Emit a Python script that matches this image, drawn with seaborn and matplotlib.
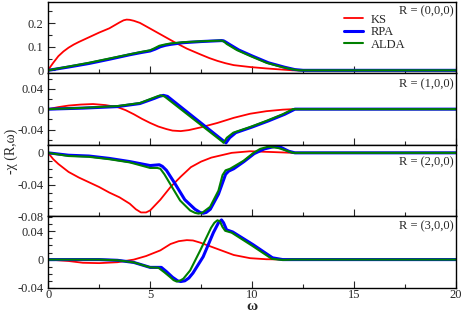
import numpy as np
import pandas as pd
import seaborn as sns
import matplotlib.pyplot as plt
from matplotlib.ticker import MultipleLocator

# R = (0,0,0)
ks0_w = [0, 0.1, 0.25, 0.5, 0.75, 1, 1.25, 1.5, 2, 2.5, 3, 3.5, 3.7, 3.85, 4.0, 4.2, 4.5, 5, 5.6, 6.2, 6.8, 7.45, 7.9, 8.3, 8.7, 9.1, 9.9, 10.7, 11.5, 12, 20]
ks0_y = [0, 0.014, 0.032, 0.06, 0.08, 0.096, 0.109, 0.12, 0.14, 0.16, 0.178, 0.203, 0.212, 0.215, 0.214, 0.21, 0.201, 0.177, 0.148, 0.119, 0.092, 0.068, 0.052, 0.04, 0.03, 0.022, 0.014, 0.008, 0.003, 0, 0]
rpa0_w = [0, 1, 2, 3, 4, 4.6, 5, 5.25, 5.5, 5.75, 6, 6.6, 7.5, 8.5, 8.6, 8.7, 8.85, 9.35, 10, 10.8, 11.6, 12.1, 12.5, 20]
rpa0_y = [0, 0.014, 0.029, 0.047, 0.066, 0.076, 0.082, 0.09, 0.1, 0.106, 0.11, 0.117, 0.122, 0.126, 0.125, 0.12, 0.112, 0.086, 0.061, 0.032, 0.013, 0.003, 0, 0]
alda0_w = [0, 1, 2, 3, 4, 4.5, 5, 5.2, 5.45, 5.7, 6, 6.6, 7.5, 8.45, 8.55, 8.65, 8.75, 9.25, 9.9, 10.7, 11.5, 12, 12.3, 20]
alda0_y = [0, 0.016, 0.032, 0.05, 0.068, 0.077, 0.085, 0.093, 0.104, 0.109, 0.114, 0.119, 0.123, 0.126, 0.125, 0.12, 0.112, 0.086, 0.061, 0.032, 0.013, 0.004, 0, 0]

# R = (1,0,0)
ks1_w = [0, 0.5, 1, 1.6, 2.2, 2.8, 3.4, 3.8, 4.2, 4.6, 5, 5.4, 5.8, 6.1, 6.5, 6.9, 7.45, 8.3, 9.1, 9.9, 10.7, 11.5, 12, 20]
ks1_y = [0, 0.004, 0.007, 0.009, 0.01, 0.008, 0.004, -0.002, -0.01, -0.019, -0.027, -0.034, -0.039, -0.042, -0.043, -0.041, -0.036, -0.027, -0.017, -0.009, -0.004, -0.001, 0, 0]
rpa1_w = [0, 1.7, 3.4, 4.5, 5.2, 5.45, 5.65, 5.85, 8.65, 8.72, 8.9, 9.2, 10.0, 10.8, 11.6, 12.1, 20]
rpa1_y = [0, 0.002, 0.005, 0.011, 0.021, 0.025, 0.027, 0.025, -0.064, -0.066, -0.056, -0.046, -0.035, -0.023, -0.01, 0, 0]
alda1_w = [0, 1.7, 3.4, 4.5, 5.15, 5.35, 5.5, 5.7, 8.55, 8.6, 8.76, 9.08, 9.9, 10.7, 11.5, 12, 20]
alda1_y = [0, 0.0025, 0.006, 0.012, 0.022, 0.025, 0.027, 0.025, -0.064, -0.066, -0.056, -0.046, -0.035, -0.023, -0.01, 0, 0]

# R = (2,0,0)
ks2_w = [0, 0.25, 0.5, 1, 1.5, 2, 2.5, 3, 3.5, 4, 4.3, 4.55, 4.8, 5, 5.5, 6, 6.5, 7, 7.5, 8, 8.5, 9, 9.9, 11, 12, 20]
ks2_y = [0, -0.008, -0.014, -0.024, -0.031, -0.037, -0.043, -0.05, -0.056, -0.064, -0.071, -0.075, -0.075, -0.0725, -0.059, -0.043, -0.03, -0.018, -0.011, -0.006, -0.003, 0, 0.002, 0.001, 0, 0]
rpa2_w = [0, 1, 2, 3, 4, 5, 5.45, 5.6, 5.8, 6.2, 6.7, 7.2, 7.45, 7.6, 7.75, 7.95, 8.35, 8.7, 8.85, 9.1, 9.6, 10.1, 10.6, 11.1, 11.4, 11.8, 12.1, 20]
rpa2_y = [0, -0.003, -0.004, -0.007, -0.011, -0.016, -0.015, -0.017, -0.022, -0.038, -0.059, -0.071, -0.075, -0.076, -0.075, -0.071, -0.052, -0.027, -0.023, -0.02, -0.011, -0.001, 0.005, 0.008, 0.007, 0.002, 0, 0]
alda2_w = [0, 1, 2, 3, 4, 5, 5.35, 5.5, 5.7, 5.98, 6.47, 6.96, 7.2, 7.37, 7.55, 7.94, 8.35, 8.55, 8.7, 8.92, 9.58, 10.07, 10.4, 10.8, 11.3, 12, 20]
alda2_y = [0, -0.004, -0.005, -0.008, -0.012, -0.019, -0.019, -0.02, -0.027, -0.039, -0.06, -0.0725, -0.0755, -0.0765, -0.0755, -0.068, -0.0475, -0.028, -0.022, -0.02, -0.01, 0, 0.005, 0.0078, 0.006, 0, 0]

# R = (3,0,0)
ks3_w = [0, 1, 1.7, 2.5, 3.4, 4.2, 4.8, 5.5, 6, 6.4, 6.8, 7.1, 7.45, 8.3, 9.1, 9.9, 10.7, 12, 20]
ks3_y = [0, -0.002, -0.0045, -0.005, -0.0037, 0, 0.005, 0.013, 0.022, 0.026, 0.0275, 0.027, 0.024, 0.015, 0.0065, 0.002, 0.0005, 0, 0]
rpa3_w = [0, 2.5, 3.4, 4.2, 5, 5.55, 5.8, 6.1, 6.35, 6.5, 6.7, 6.9, 7.1, 7.6, 8.1, 8.35, 8.5, 8.6, 8.75, 9.05, 10.05, 11, 11.5, 12, 20]
rpa3_y = [0, 0, -0.001, -0.004, -0.011, -0.011, -0.017, -0.025, -0.030, -0.031, -0.030, -0.026, -0.019, 0.004, 0.038, 0.052, 0.056, 0.052, 0.042, 0.039, 0.021, 0.0025, 0, 0, 0]
alda3_w = [0, 2.5, 3.4, 4.2, 5, 5.4, 5.7, 5.98, 6.15, 6.3, 6.45, 6.63, 6.96, 7.45, 7.99, 8.15, 8.3, 8.42, 8.55, 8.68, 9.0, 10.0, 10.97, 11.5, 12, 20]
alda3_y = [0, 0, -0.001, -0.004, -0.011, -0.0114, -0.018, -0.0247, -0.029, -0.031, -0.030, -0.027, -0.0154, 0.0126, 0.045, 0.052, 0.0555, 0.054, 0.046, 0.0407, 0.038, 0.0196, 0.001, -0.0005, 0, 0]

panel_labels = ["R = (0,0,0)", "R = (1,0,0)", "R = (2,0,0)", "R = (3,0,0)"]
label_y = [0.95, 0.93, 0.84, 0.95]
methods = ["KS", "RPA", "ALDA"]
series = [
    [(ks0_w, ks0_y), (rpa0_w, rpa0_y), (alda0_w, alda0_y)],
    [(ks1_w, ks1_y), (rpa1_w, rpa1_y), (alda1_w, alda1_y)],
    [(ks2_w, ks2_y), (rpa2_w, rpa2_y), (alda2_w, alda2_y)],
    [(ks3_w, ks3_y), (rpa3_w, rpa3_y), (alda3_w, alda3_y)],
]

rows = []
for p, panel in enumerate(series):
    for m, (w, y) in zip(methods, panel):
        for wi, yi in zip(w, y):
            rows.append((p, m, wi, yi))
df = pd.DataFrame(rows, columns=["panel", "method", "omega", "chi"])

sns.set_style("ticks")
plt.rcParams['font.family'] = ['Liberation Serif', 'DejaVu Serif']

colors = {"KS": "#ff0000", "RPA": "#0000ff", "ALDA": "#008000"}
widths = {"KS": 1.3, "RPA": 2.2, "ALDA": 1.5}

ylims = [(-0.013, 0.29), (-0.07, 0.07), (-0.08, 0.01), (-0.04, 0.061)]
yticks = [[0, 0.1, 0.2], [-0.04, 0, 0.04], [-0.08, -0.04, 0], [-0.04, 0, 0.04]]
yminor = [0.05, 0.02, 0.01, 0.01]

fig, axes = plt.subplots(4, 1, figsize=(4.63, 3.15), dpi=100, sharex=True)
fig.subplots_adjust(left=0.104, right=0.985, top=0.994, bottom=0.086, hspace=0)

for p, ax in enumerate(axes):
    sub = df[df.panel == p]
    for m in methods:
        d = sub[sub.method == m]
        sns.lineplot(data=d, x="omega", y="chi", ax=ax, color=colors[m],
                     lw=widths[m], sort=False, estimator=None,
                     solid_joinstyle='round', label=m if p == 0 else None)
    ax.set_xlim(0, 20)
    ax.set_ylim(*ylims[p])
    ax.set_yticks(yticks[p])
    ax.set_yticklabels([f"{t:g}" for t in yticks[p]])
    ax.yaxis.set_minor_locator(MultipleLocator(yminor[p]))
    ax.xaxis.set_major_locator(MultipleLocator(5))
    ax.xaxis.set_minor_locator(MultipleLocator(2.5))
    ax.tick_params(which='both', direction='in', labelsize=9, width=0.8)
    ax.tick_params(which='major', length=5)
    ax.tick_params(which='minor', length=3)
    ax.tick_params(axis='x', pad=1)
    ax.set_xlabel("")
    ax.set_ylabel("")
    for s in ax.spines.values():
        s.set_linewidth(1.0)
        s.set_color("black")
    ax.text(0.993, label_y[p], panel_labels[p], transform=ax.transAxes,
            ha='right', va='top', fontsize=9)

axes[0].legend(loc='upper left', bbox_to_anchor=(0.705, 0.96), frameon=False,
               fontsize=9, handlelength=1.5, handletextpad=0.6,
               labelspacing=0.05, borderpad=0.2)

# omega label placed just under the tick labels
fig.text(0.545, 0.027, "ω", ha='center', va='center', fontsize=11, fontweight='bold')
fig.text(0.025, 0.52, "-χ (R,ω)", rotation=90, ha='center', va='center', fontsize=10)

fig.savefig("out.png", dpi=100)
